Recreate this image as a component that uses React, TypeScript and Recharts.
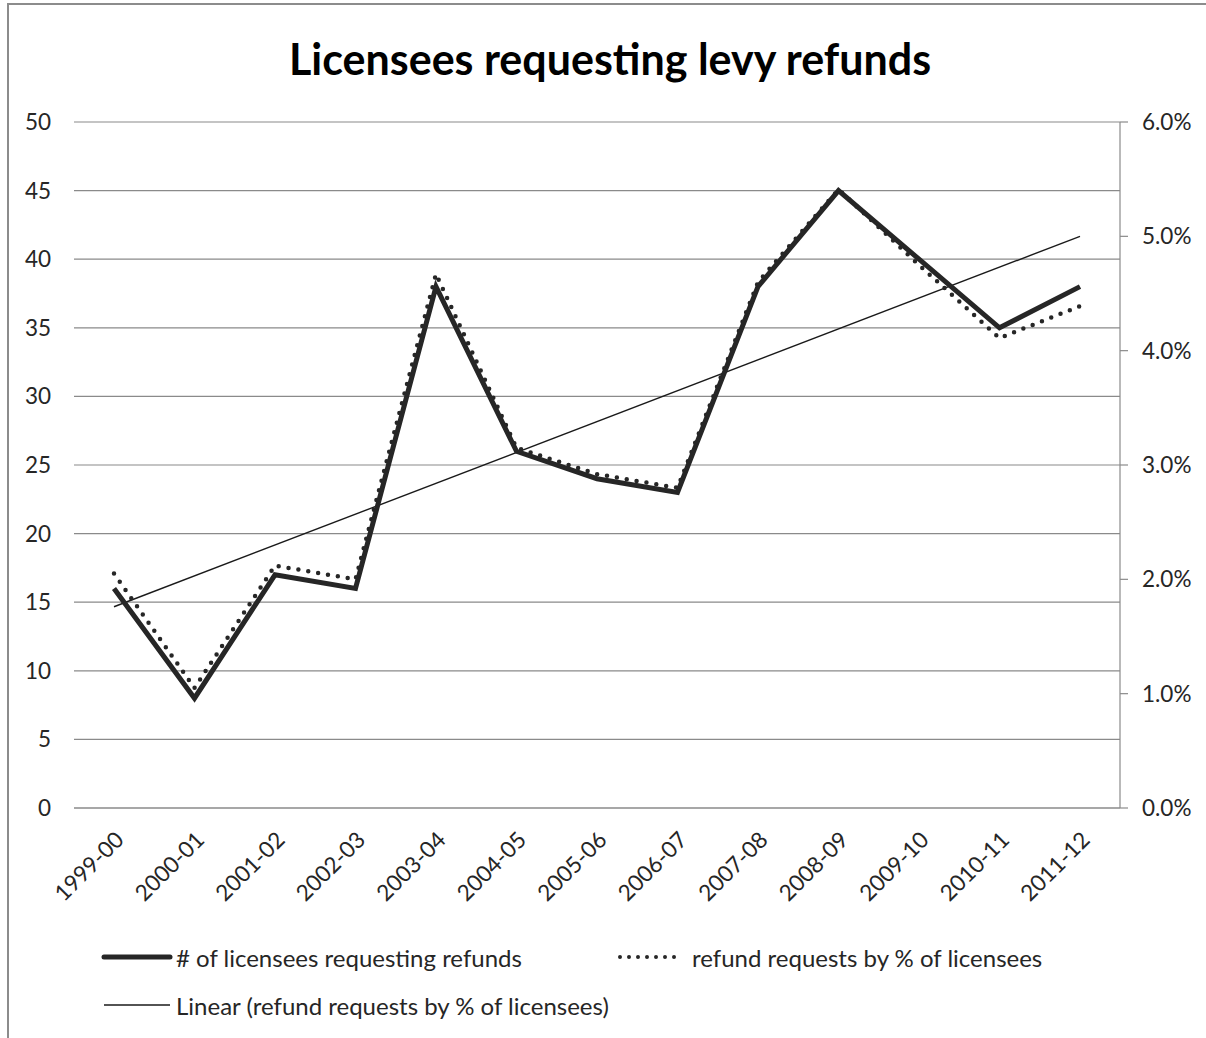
import React from "react";
import { LineChart, Line, XAxis, YAxis, CartesianGrid } from "recharts";

const categories = [
  "1999-00", "2000-01", "2001-02", "2002-03", "2003-04", "2004-05", "2005-06",
  "2006-07", "2007-08", "2008-09", "2009-10", "2010-11", "2011-12",
];
const licenseeCounts = [16, 8, 17, 16, 38, 26, 24, 23, 38, 45, 40, 35, 38];
const refundPercent = [2.05, 1.05, 2.12, 2.0, 4.67, 3.15, 2.92, 2.8, 4.6, 5.41, 4.75, 4.11, 4.39];
// Linear trendline endpoints (first and last category)
const trendPercent = [1.76, null, null, null, null, null, null, null, null, null, null, null, 5.0];

const leftTicks = [0, 5, 10, 15, 20, 25, 30, 35, 40, 45, 50];
const rightTicks = [0, 1, 2, 3, 4, 5, 6];

const seriesNames = {
  count: "# of licensees requesting refunds",
  pct: "refund requests by % of licensees",
  trend: "Linear (refund requests by % of licensees)",
};

const data = categories.map((c, i) => ({
  cat: c,
  count: licenseeCounts[i],
  pct: refundPercent[i],
  trend: trendPercent[i],
}));

const FONT = "Lato, 'Open Sans', sans-serif";
const INK = "#262626";
const GRID = "#8a8a8a";
const TICK_FS = 22.5;
const LEGEND_FS = 24;

export default function App() {
  return (
    <div
      style={{
        position: "absolute",
        left: 0,
        top: 0,
        width: 1206,
        height: 1038,
        background: "#fff",
        fontFamily: FONT,
        overflow: "hidden",
      }}
    >
      {/* frame */}
      <div style={{ position: "absolute", left: 7, top: 3, width: 1199, height: 2, background: "#8c8c8c" }} />
      <div style={{ position: "absolute", left: 7, top: 3, width: 2, height: 1035, background: "#8c8c8c" }} />
      {/* title */}
      <div
        style={{
          position: "absolute",
          left: 0,
          width: 1220,
          top: 33,
          textAlign: "center",
          fontSize: 43,
          fontWeight: 700,
          color: "#000",
          lineHeight: "52px",
        }}
      >
        Licensees requesting levy refunds
      </div>
      <div style={{ position: "absolute", left: 0, top: 0 }}>
        <LineChart
          width={1206}
          height={1038}
          data={data}
          margin={{ top: 122, right: 6, bottom: 20, left: 14 }}
        >
          <CartesianGrid yAxisId="left" vertical={false} stroke={GRID} strokeWidth={1.2} />
          <XAxis
            dataKey="cat"
            interval={0}
            height={210}
            padding={{ left: 40, right: 40 }}
            tickLine={false}
            axisLine={{ stroke: GRID, strokeWidth: 1.2 }}
            angle={-45}
            textAnchor="end"
            tickMargin={16}
            tick={{ fill: INK, fontSize: TICK_FS, fontFamily: FONT }}
          />
          <YAxis
            yAxisId="left"
            orientation="left"
            width={60}
            domain={[0, 50]}
            ticks={leftTicks}
            interval={0}
            tickLine={false}
            axisLine={false}
            tickSize={0}
            tickMargin={23}
            tick={{ fill: INK, fontSize: TICK_FS, fontFamily: FONT }}
          />
          <YAxis
            yAxisId="right"
            orientation="right"
            width={80}
            domain={[0, 6]}
            ticks={rightTicks}
            interval={0}
            tickFormatter={(v: number) => `${v.toFixed(1)}%`}
            axisLine={{ stroke: GRID, strokeWidth: 1.2 }}
            tickLine={{ stroke: GRID, strokeWidth: 1.2 }}
            tickSize={8}
            tickMargin={14}
            tick={{ fill: INK, fontSize: TICK_FS, fontFamily: FONT }}
          />
          <Line
            yAxisId="right"
            dataKey="trend"
            name={seriesNames.trend}
            stroke="#1a1a1a"
            strokeWidth={1.4}
            dot={false}
            connectNulls
            isAnimationActive={false}
          />
          <Line
            yAxisId="right"
            dataKey="pct"
            name={seriesNames.pct}
            stroke={INK}
            strokeWidth={4.5}
            strokeDasharray="0 10"
            strokeLinecap="round"
            dot={false}
            isAnimationActive={false}
          />
          <Line
            yAxisId="left"
            dataKey="count"
            name={seriesNames.count}
            stroke={INK}
            strokeWidth={5}
            strokeLinejoin="miter"
            dot={false}
            isAnimationActive={false}
          />
        </LineChart>
      </div>
      {/* legend */}
      <svg
        style={{ position: "absolute", left: 0, top: 930 }}
        width={1206}
        height={100}
      >
        <line x1={104} x2={170} y1={27} y2={27} stroke={INK} strokeWidth={5} strokeLinecap="round" />
        <text x={176} y={27} dominantBaseline="central" fontSize={LEGEND_FS} fill={INK} fontFamily={FONT}>
          {seriesNames.count}
        </text>
        <line
          x1={620}
          x2={682}
          y1={27}
          y2={27}
          stroke={INK}
          strokeWidth={4}
          strokeDasharray="0 9"
          strokeLinecap="round"
        />
        <text x={692} y={27} dominantBaseline="central" fontSize={LEGEND_FS} fill={INK} fontFamily={FONT}>
          {seriesNames.pct}
        </text>
        <line x1={104} x2={170} y1={75} y2={75} stroke="#1a1a1a" strokeWidth={1.4} />
        <text x={176} y={75} dominantBaseline="central" fontSize={LEGEND_FS} fill={INK} fontFamily={FONT}>
          {seriesNames.trend}
        </text>
      </svg>
    </div>
  );
}
